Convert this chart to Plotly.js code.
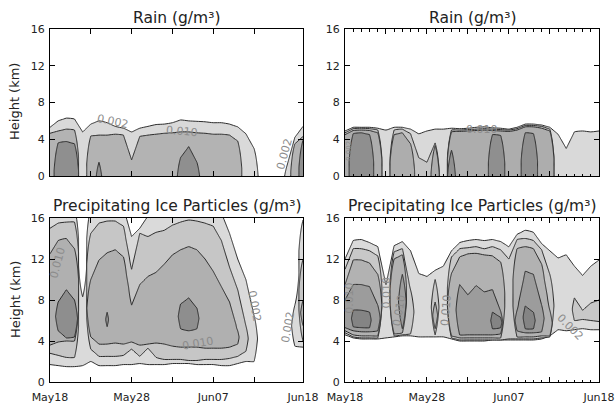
<!DOCTYPE html>
<html><head><meta charset="utf-8">
<script src="https://cdn.plot.ly/plotly-3.0.1.min.js"></script>
<style>html,body{margin:0;padding:0;background:#fff}#chart{width:616px;height:405px}</style>
</head><body><div id="chart"></div>
<script>
const _ = null;
// Days since May18 (May18 ... Jun18)
const days = [0,1,2,3,4,5,6,7,8,9,10,11,12,13,14,15,16,17,18,19,20,21,22,23,24,25,26,27,28,29,30,31];
const tickDays = [0,5,10,15,20,25,31];
const tickText = ['May18','','May28','','Jun07','','Jun18'];
const heightTicks = [0,4,8,12,16];

// ---- Rain, left panel: top height (km) of each contour level per day
const rainW_L1 = [5.3,6.0,6.3,6.2,4.8,5.65,6.0,5.8,5.4,5.2, 4.8,5.2,5.4,5.6,5.65,5.8,6.1,6.0,5.95,5.9, 5.8,5.8,5.65,5.35,4.6,3.0,_,_,_,1.0, 4.2,5.4];
const rainW_L2 = [4.65,4.9,5.1,5.0,_,4.35,4.45,4.45,4.55,4.45, 1.75,4.3,4.45,4.55,4.65,4.7,4.8,4.8,4.7,4.65, 4.55,4.55,4.45,3.8,_,_,_,_,_,_, 3.5,4.3];
const rainW_L3 = [_,3.6,3.75,3.5,_,_,1.5,_,_,_, _,_,_,_,_,_,2.0,3.2,1.5,_, _,_,_,_,_,_,_,_,_,_, _,3.9];

// ---- Rain, right panel
const rainE_L1 = [4.9,5.3,5.3,5.3,5.2,5.0,5.3,5.3,5.1,4.6, 4.9,5.1,5.1,5.2,5.15,5.2,5.3,5.35,5.25,5.2, 5.1,5.3,5.65,5.65,5.55,5.3,4.55,3.0,4.8,4.9, 4.8,4.9];
const rainE_L2 = [4.7,5.15,5.2,5.15,5.0,_,5.0,5.1,4.6,2.0, 1.5,3.6,_,5.0,5.0,5.05,5.1,5.15,5.1,5.05, 5.0,5.15,5.5,5.5,5.4,5.1,_,_,_,_, _,_];
const rainE_L3 = [4.5,4.95,5.0,4.95,4.7,_,4.5,4.7,3.5,_, _,3.3,_,4.8,4.85,4.9,4.95,5.0,4.95,4.9, 4.85,5.0,5.35,5.35,5.2,4.9,_,_,_,_, _,_];
const rainE_L4 = [_,4.6,4.7,4.5,_,_,_,_,_,_, _,_,_,2.8,_,_,_,_,4.5,4.4, _,_,4.7,4.6,_,_,_,_,_,_, _,_];

// ---- Precipitating ice, left panel: bottom / top heights per level
const iceW_L1_bot = [1.7,1.6,1.5,1.5,1.6,2.0,1.6,1.6,1.6,1.7, 1.7,1.8,1.7,1.7,1.7,1.8,1.8,1.8,1.7,1.7, 1.7,1.6,1.6,1.8,2.0,2.0,_,_,_,_, 3.5,3.4];
const iceW_L1_top = [17,17,17,17,8.3,17,17,17,17,17, 14.2,15.0,16.2,17,17,17,17,17,17,17, 17,16.5,14.5,12.0,10.0,6.5,_,_,_,_, 7.5,15.8];
const iceW_L2_bot = [2.8,2.6,2.4,2.4,_,3.2,2.5,2.5,2.5,2.6, 3.2,2.5,3.3,2.4,2.2,2.2,2.2,2.1,2.1,2.2, 2.2,2.2,2.3,2.5,3.0,_,_,_,_,_, _,4.0];
const iceW_L2_top = [15.0,15.5,15.6,15.6,_,14.5,15.5,15.7,15.7,15.2, 11.0,14.5,14.2,14.6,14.8,15.3,15.6,15.8,15.7,15.5, 15.2,13.8,11.2,9.0,5.5,_,_,_,_,_, _,12.0];
const iceW_L3_bot = [3.6,3.9,4.0,4.0,_,4.4,3.7,3.7,3.8,3.7, 3.9,3.6,3.7,3.8,3.7,3.5,3.4,3.4,3.4,3.3, 3.3,3.3,3.4,3.7,_,_,_,_,_,_, _,5.5];
const iceW_L3_top = [12.5,13.8,14.0,13.0,_,10.0,11.9,12.6,12.9,12.2, 7.5,9.5,10.3,10.7,11.5,12.4,12.9,13.2,12.9,12.0, 10.8,9.3,7.8,5.0,_,_,_,_,_,_, _,8.0];
const iceW_L4_bot = [_,5.0,4.3,4.4,_,_,_,5.4,_,_, _,_,_,_,_,_,5.2,5.0,5.2,_, _,_,_,_,_,_,_,_,_,_, _,_];
const iceW_L4_top = [_,7.8,9.0,8.0,_,_,_,6.8,_,_, _,_,_,_,_,_,7.6,8.2,7.2,_, _,_,_,_,_,_,_,_,_,_, _,_];

// ---- Precipitating ice, right panel
const iceE_L1_bot = [4.6,4.3,4.2,4.2,4.2,4.3,4.4,4.5,4.5,4.4, 4.4,4.4,4.4,4.2,4.0,4.0,4.0,4.0,4.1,4.1, 4.1,4.1,4.1,4.1,4.2,4.5,5.1,5.0,5.1,5.2, 5.1,5.1];
const iceE_L1_top = [12.0,13.8,13.9,13.6,13.2,9.5,13.3,13.7,12.8,10.6, 10.3,10.9,11.3,12.8,13.6,13.8,13.9,13.8,13.9,13.7, 13.2,14.4,14.8,14.6,13.5,12.8,12.1,12.4,11.3,10.4, 11.3,11.9];
const iceE_L2_bot = [4.8,4.4,4.3,4.3,4.3,_,4.5,4.6,4.7,_, _,4.6,_,4.3,4.1,4.1,4.1,4.1,4.1,4.1, 4.2,4.2,4.2,4.2,4.3,4.4,_,_,6.0,6.1, 6.0,5.9];
const iceE_L2_top = [11.0,13.0,13.0,12.8,12.3,_,12.7,13.0,9.0,_, _,10.0,_,12.2,13.0,13.1,13.2,13.0,13.2,12.9, 12.0,13.9,14.0,13.8,12.9,10.5,_,_,8.2,7.0, 7.7,8.0];
const iceE_L3_bot = [5.0,4.6,4.5,4.5,4.5,_,4.7,4.8,_,_, _,5.2,_,4.5,4.3,4.3,4.3,4.3,4.3,4.3, _,4.4,4.4,4.4,4.5,4.5,_,_,_,_, _,_];
const iceE_L3_top = [9.5,11.9,11.9,11.6,10.5,_,12.0,12.4,_,_, _,7.8,_,10.6,12.2,12.5,12.55,12.4,12.3,11.7, _,13.0,13.2,13.0,11.5,7.0,_,_,_,_, _,_];
const iceE_L4_bot = [5.3,5.0,4.9,4.9,5.0,_,_,5.2,_,_, _,_,_,_,4.6,4.6,4.6,4.6,4.6,4.7, _,5.0,4.8,4.8,4.9,_,_,_,_,_, _,_];
const iceE_L4_top = [8.0,9.5,9.5,9.3,7.5,_,_,10.5,_,_, _,_,_,_,9.5,8.5,9.4,8.8,9.0,6.9, _,7.0,10.8,10.5,7.5,_,_,_,_,_, _,_];
const iceE_L5_bot = [_,5.4,5.3,5.3,_,_,_,_,_,_, _,_,_,_,_,_,_,_,5.2,5.3, _,_,5.2,5.2,_,_,_,_,_,_, _,_];
const iceE_L5_top = [_,7.0,7.0,6.8,_,_,_,_,_,_, _,_,_,_,_,_,_,_,6.8,6.3, _,_,7.4,6.8,_,_,_,_,_,_, _,_];

// ---------- build ----------
const heights = [];
for (let i = 0; i <= 80; i++) heights.push(i * 0.2);
const CLIP = 3;
function levelZ(bot, top) {
  return heights.map(h => days.map((d, i) => {
    const t = top[i];
    if (t === null || t === undefined) return -CLIP;
    const b = (bot && bot[i] !== null && bot[i] !== undefined) ? bot[i] : -5;
    const f = Math.min(h - b, t - h);
    return Math.max(-CLIP, Math.min(CLIP, f));
  }));
}
// constraint contours shade the region that violates the constraint -> '<' shades z > 0
function levelTrace(bot, top, color, xa, ya) {
  return {
    type: 'contour', x: days, y: heights, z: levelZ(bot, top),
    xaxis: xa, yaxis: ya,
    contours: {type: 'constraint', operation: '<', value: 0},
    fillcolor: color, line: {color: '#2b2b2b', width: 1, smoothing: 0.6},
    showscale: false, hoverinfo: 'skip'
  };
}
const traces = [];
const cTL = ['#d9d9d9', '#b3b3b3', '#8f8f8f'];
[rainW_L1, rainW_L2, rainW_L3].forEach((t, k) => traces.push(levelTrace(null, t, cTL[k], 'x', 'y')));
const cTR = ['#d9d9d9', '#c4c4c4', '#adadad', '#8f8f8f'];
[rainE_L1, rainE_L2, rainE_L3, rainE_L4].forEach((t, k) => traces.push(levelTrace(null, t, cTR[k], 'x2', 'y2')));
const cBL = ['#dadada', '#c6c6c6', '#b0b0b0', '#8e8e8e'];
[[iceW_L1_bot, iceW_L1_top], [iceW_L2_bot, iceW_L2_top], [iceW_L3_bot, iceW_L3_top], [iceW_L4_bot, iceW_L4_top]]
  .forEach((p, k) => traces.push(levelTrace(p[0], p[1], cBL[k], 'x3', 'y3')));
const cBR = ['#dadada', '#c8c8c8', '#b2b2b2', '#9c9c9c', '#848484'];
[[iceE_L1_bot, iceE_L1_top], [iceE_L2_bot, iceE_L2_top], [iceE_L3_bot, iceE_L3_top], [iceE_L4_bot, iceE_L4_top], [iceE_L5_bot, iceE_L5_top]]
  .forEach((p, k) => traces.push(levelTrace(p[0], p[1], cBR[k], 'x4', 'y4')));

const W = 616, H = 405;
const px = v => v / W, py = v => 1 - v / H;
const FONT = 'DejaVu Sans';
function xax(domain, anchor, labels, minor) {
  const a = {
    domain, anchor, range: [0, 31], autorange: false,
    tickmode: 'array', tickvals: tickDays,
    ticktext: labels ? tickText : tickDays.map(() => ''),
    ticks: 'inside', ticklen: 5, tickwidth: 1, tickcolor: '#000',
    ticklabelstandoff: 5,
    showline: true, linecolor: '#000', linewidth: 1, mirror: 'ticks',
    showgrid: false, zeroline: false,
    tickfont: {family: FONT, size: 11, color: '#222'}
  };
  if (minor) a.minor = {tick0: 0, dtick: 1, ticks: 'inside', ticklen: 2.5, tickwidth: 1, tickcolor: '#000', showgrid: false};
  return a;
}
function yax(domain, anchor) {
  return {
    domain, anchor, range: [0, 16], autorange: false,
    tickmode: 'array', tickvals: heightTicks,
    ticks: 'inside', ticklen: 5, tickwidth: 1, tickcolor: '#000',
    ticklabelstandoff: 2,
    showline: true, linecolor: '#000', linewidth: 1, mirror: 'ticks',
    showgrid: false, zeroline: false,
    tickfont: {family: FONT, size: 11, color: '#222'}
  };
}
const xL = [px(50), px(303)], xR = [px(345), px(599)];
const yT = [py(176), py(29)], yB = [py(382), py(218)];

const ann = [];
function title(text, xc, yc) {
  ann.push({text, x: px(xc), y: py(yc), xref: 'paper', yref: 'paper', showarrow: false,
    xanchor: 'center', yanchor: 'middle', font: {family: FONT, size: 15.5, color: '#222'}});
}
title('Rain (g/m³)', 176.5, 18);
title('Rain (g/m³)', 472, 18);
title('Precipitating Ice Particles (g/m³)', 176.5, 206);
title('Precipitating Ice Particles (g/m³)', 472, 206);
[102, 300].forEach(yc => ann.push({text: 'Height (km)', x: px(15), y: py(yc), xref: 'paper', yref: 'paper',
  showarrow: false, textangle: -90, xanchor: 'center', yanchor: 'middle',
  font: {family: FONT, size: 13, color: '#222'}}));

function clabel(text, xa, ya, x, y, ang, size) {
  ann.push({text, x, y, xref: xa, yref: ya, showarrow: false, textangle: ang,
    xanchor: 'center', yanchor: 'middle', font: {family: FONT, size: size || 11, color: '#8c8c8c'}});
}
clabel('0.002', 'x', 'y', 7.7, 5.95, 12);
clabel('0.010', 'x', 'y', 16.2, 4.85, 5);
clabel('0.002', 'x', 'y', 28.8, 2.4, -75);
clabel('0.010', 'x2', 'y2', 16.7, 5.1, 0);
clabel('0.002', 'x2', 'y2', 0.45, 2.7, -90, 7);
clabel('0.010', 'x3', 'y3', 0.9, 11.7, -75);
clabel('0.010', 'x3', 'y3', 18.1, 3.8, -10);
clabel('0.002', 'x3', 'y3', 25.1, 7.4, 80);
clabel('0.002', 'x3', 'y3', 29.2, 5.4, -80);
clabel('0.010', 'x4', 'y4', 0.6, 8.2, -90);
clabel('0.010', 'x4', 'y4', 5.1, 8.7, -90);
clabel('0.010', 'x4', 'y4', 6.6, 7.0, -80);
clabel('0.010', 'x4', 'y4', 12.3, 7.0, -85);
clabel('0.002', 'x4', 'y4', 27.5, 5.3, 45);

const layout = {
  width: W, height: H, margin: {l: 0, r: 0, t: 0, b: 0},
  paper_bgcolor: '#fff', plot_bgcolor: '#fff', showlegend: false,
  xaxis: xax(xL, 'y', false, false), yaxis: yax(yT, 'x'),
  xaxis2: xax(xR, 'y2', false, true), yaxis2: yax(yT, 'x2'),
  xaxis3: xax(xL, 'y3', true, false), yaxis3: yax(yB, 'x3'),
  xaxis4: xax(xR, 'y4', true, true), yaxis4: yax(yB, 'x4'),
  annotations: ann
};
Plotly.newPlot('chart', traces, layout, {staticPlot: true, displayModeBar: false});
</script>
</body></html>
